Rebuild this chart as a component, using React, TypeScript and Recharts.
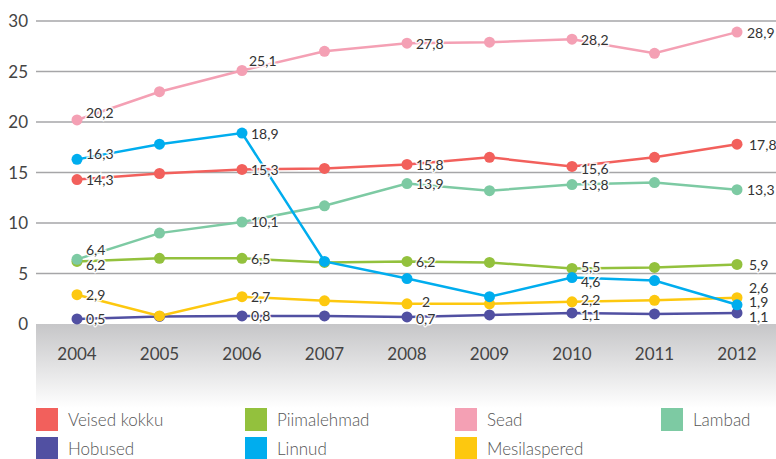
import { LineChart, Line, XAxis, YAxis, CartesianGrid, LabelList } from 'recharts';

const years = ['2004', '2005', '2006', '2007', '2008', '2009', '2010', '2011', '2012'];

const veised = [14.3, 14.9, 15.3, 15.4, 15.8, 16.5, 15.6, 16.5, 17.8];
const piimalehmad = [6.2, 6.5, 6.5, 6.1, 6.2, 6.1, 5.5, 5.6, 5.9];
const sead = [20.2, 23.0, 25.1, 27.0, 27.8, 27.9, 28.2, 26.8, 28.9];
const lambad = [6.4, 9.0, 10.1, 11.7, 13.9, 13.2, 13.8, 14.0, 13.3];
const hobused = [0.5, 0.75, 0.8, 0.8, 0.7, 0.9, 1.1, 1.0, 1.1];
const linnud = [16.3, 17.8, 18.9, 6.2, 4.5, 2.7, 4.6, 4.3, 1.9];
const mesilaspered = [2.9, 0.8, 2.7, 2.3, 2.0, 2.0, 2.2, 2.35, 2.6];

const yTicks = [0, 5, 10, 15, 20, 25, 30];

// which points carry a value label
const labelled = {
  veised: [0, 2, 4, 6, 8],
  piimalehmad: [0, 2, 4, 6, 8],
  sead: [0, 2, 4, 6, 8],
  lambad: [0, 2, 4, 6, 8],
  hobused: [0, 2, 4, 6, 8],
  linnud: [0, 2, 6, 8],
  mesilaspered: [0, 2, 4, 6, 8],
};

const series = [
  { key: 'veised', name: 'Veised kokku', color: '#f2605c' },
  { key: 'piimalehmad', name: 'Piimalehmad', color: '#93c13d' },
  { key: 'sead', name: 'Sead', color: '#f4a0b4' },
  { key: 'lambad', name: 'Lambad', color: '#7dcaa3' },
  { key: 'hobused', name: 'Hobused', color: '#5150a2' },
  { key: 'mesilaspered', name: 'Mesilaspered', color: '#fdc80f' },
  { key: 'linnud', name: 'Linnud', color: '#00adee' },
];

const legendOrder = ['veised', 'piimalehmad', 'sead', 'lambad', 'hobused', 'linnud', 'mesilaspered'];

const values: Record<string, number[]> = { veised, piimalehmad, sead, lambad, hobused, linnud, mesilaspered };

const data = years.map((year, i) => {
  const row: Record<string, any> = { year };
  Object.keys(values).forEach((k) => (row[k] = values[k][i]));
  return row;
});

// label offsets [dx, dy] from the dot, per series and point
const labelOffsets: Record<string, Record<number, [number, number]>> = {
  sead: { 0: [9, -7], 2: [7, -10], 8: [10, 0] },
  linnud: { 0: [9, -6], 6: [9, 4], 8: [12, -3] },
  veised: { 6: [9, 2], 8: [12, 0] },
  lambad: { 0: [9, -10], 8: [10, 0] },
  piimalehmad: { 0: [9, 3], 6: [9, -2], 8: [12, 0] },
  mesilaspered: { 4: [15, -2], 6: [9, -2], 8: [12, -10] },
  hobused: { 4: [9, 2], 6: [9, 2], 8: [12, 4] },
};

const fmt = (v: number) => String(v).replace('.', ',');

const makeLabel = (key: string) => (props: any) => {
  const { x, y, value, index } = props;
  if (!labelled[key as keyof typeof labelled].includes(index)) return null;
  const off = labelOffsets[key]?.[index] ?? [9, 0];
  return (
    <text
      x={x + off[0]}
      y={y + off[1]}
      dominantBaseline="central"
      fontSize={14}
      fill="#333"
      stroke="#fff"
      strokeWidth={3}
      strokeOpacity={0.85}
      paintOrder="stroke"
      fontFamily="Lato, sans-serif"
    >
      {fmt(value)}
    </text>
  );
};

const Legend = () => {
  const cols = [36, 245, 455, 661];
  const rows = [408, 437];
  return (
    <>
      {legendOrder.map((k, i) => {
        const s = series.find((x) => x.key === k)!;
        const left = cols[i % 4];
        const top = rows[Math.floor(i / 4)];
        return (
          <div key={k} style={{ position: 'absolute', left, top, display: 'flex', alignItems: 'center' }}>
            <div style={{ width: 22, height: 23, background: s.color }} />
            <span style={{ marginLeft: 10, fontSize: 17, color: '#555', fontFamily: 'Lato, sans-serif', fontWeight: 300 }}>
              {s.name}
            </span>
          </div>
        );
      })}
    </>
  );
};

export default function App() {
  return (
    <div style={{ position: 'absolute', top: 0, left: 0, width: 776, height: 459, background: '#fff', overflow: 'hidden' }}>
      <div
        style={{
          position: 'absolute',
          left: 36,
          top: 324,
          width: 740,
          height: 84,
          background: 'linear-gradient(#c6c6c8, #ffffff)',
        }}
      />
      <div style={{ position: 'absolute', top: 0, left: 0 }}>
        <LineChart width={776} height={459} data={data} margin={{ top: 21, right: 0, bottom: 75, left: 0 }}>
          <CartesianGrid vertical={false} stroke="#a6a6a8" strokeWidth={1.5} horizontalValues={[5, 10, 15, 20, 25, 30]} />
          <XAxis
            dataKey="year"
            axisLine={false}
            tickLine={false}
            tickSize={0}
            tickMargin={24}
            height={60}
            padding={{ left: 41, right: 39 }}
            tick={{ fill: '#444', fontSize: 17, fontFamily: 'Lato, sans-serif' }}
          />
          <YAxis
            domain={[0, 30]}
            ticks={yTicks}
            width={36}
            axisLine={false}
            tickLine={false}
            tickSize={0}
            tickMargin={8}
            tick={{ fill: '#444', fontSize: 17, fontFamily: 'Lato, sans-serif' }}
          />
          {series.map((s) => (
            <Line
              key={s.key}
              dataKey={s.key}
              name={s.name}
              stroke={s.color}
              strokeWidth={2.5}
              dot={{ r: 5.5, fill: s.color, stroke: s.color, strokeWidth: 0 }}
              activeDot={false}
              isAnimationActive={false}
            />
          ))}
          {series.map((s) => (
            <Line
              key={s.key + '-labels'}
              dataKey={s.key}
              stroke="none"
              dot={false}
              activeDot={false}
              legendType="none"
              isAnimationActive={false}
            >
              <LabelList dataKey={s.key} content={makeLabel(s.key)} />
            </Line>
          ))}
        </LineChart>
      </div>
      <Legend />
    </div>
  );
}
